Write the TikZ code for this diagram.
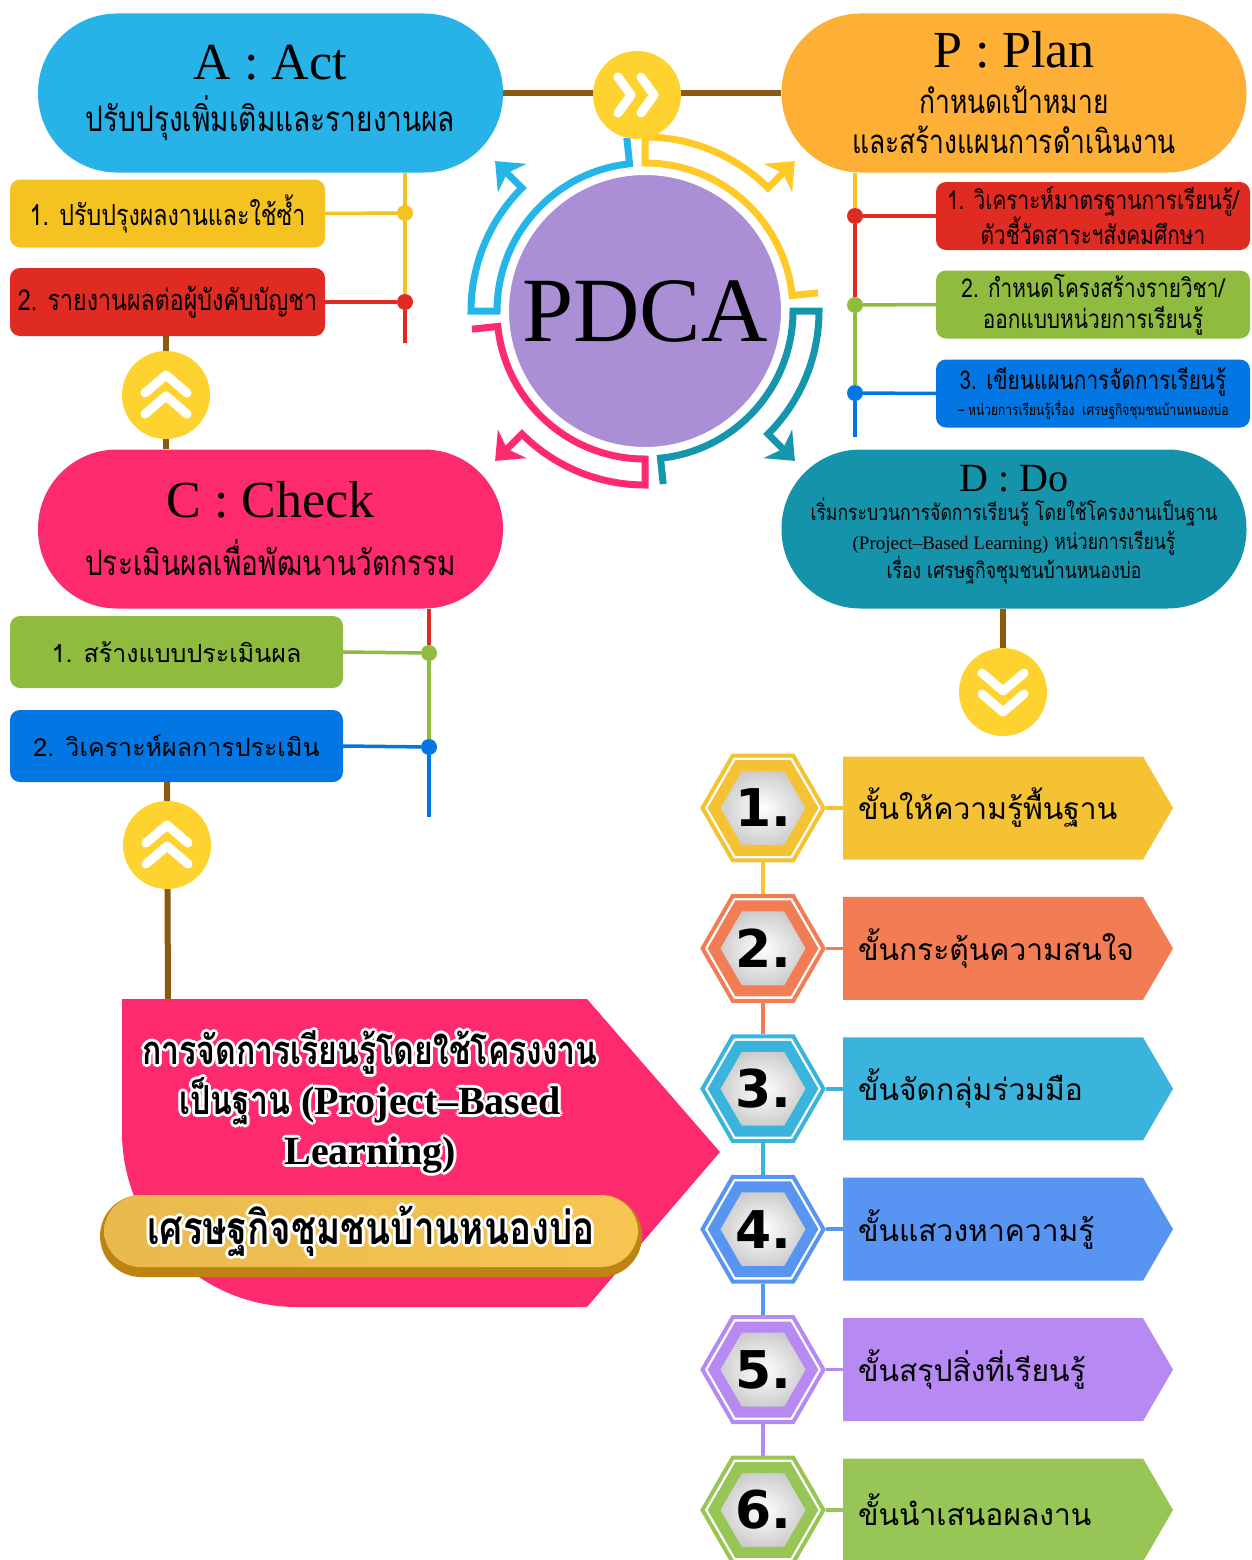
\documentclass[tikz,border=0pt]{standalone}
\usepackage{fontspec}
\setmainfont{Liberation Serif}
\newfontfamily\thaifont[Script=Thai]{Loma}
\newfontfamily\thaicond[Script=Thai, FakeStretch=0.8]{Loma}
\newfontfamily\numfont{DejaVu Sans}
\usetikzlibrary{positioning,arrows.meta,shapes.geometric,backgrounds}

\definecolor{actblue}{HTML}{27B3E8}
\definecolor{planorange}{HTML}{FDB035}
\definecolor{checkpink}{HTML}{FE2A6E}
\definecolor{doteal}{HTML}{1493AB}
\definecolor{pdcapurple}{HTML}{AA8ED6}
\definecolor{navyellow}{HTML}{FED330}
\definecolor{trunkbrown}{HTML}{8B5A12}
\definecolor{subyellow}{HTML}{F4C322}
\definecolor{subred}{HTML}{E02B22}
\definecolor{subgreen}{HTML}{8FBC3F}
\definecolor{subblue}{HTML}{0277E3}
\definecolor{arcblue}{HTML}{26B5E9}
\definecolor{arcyellow}{HTML}{FFC928}
\definecolor{arcteal}{HTML}{1596AC}
\definecolor{stepa}{HTML}{F4C232}
\definecolor{stepb}{HTML}{F27D55}
\definecolor{stepc}{HTML}{3AB4DC}
\definecolor{stepd}{HTML}{5894F2}
\definecolor{stepe}{HTML}{B68AF2}
\definecolor{stepf}{HTML}{97C656}
\definecolor{goldlight}{HTML}{F9D680}
\definecolor{goldleft}{HTML}{E8BA4E}
\definecolor{goldright}{HTML}{F7C551}
\definecolor{golddark}{HTML}{BE8412}

\newcommand{\fsz}[2]{\fontsize{#1}{#2}\selectfont}
\newcommand{\pbllines}{การจัดการเรียนรู้โดยใช้โครงงาน\\เป็นฐาน {\rmfamily\bfseries(Project–Based}\\{\rmfamily\bfseries Learning)}}
\newcommand{\goldline}{เศรษฐกิจชุมชนบ้านหนองบ่อ}

\begin{document}
\begin{tikzpicture}[
  x=1pt, y=-1pt,
  >=Stealth,
  pill/.style={rounded corners=79pt, minimum width=465, minimum height=159, align=center, inner sep=0pt},
  sub/.style={rounded corners=10pt, minimum width=315, minimum height=68, align=center, inner sep=0pt, font=\thaicond\fsz{29}{32}},
  joint/.style={circle, fill=#1, minimum size=16, inner sep=0pt},
  link/.style={draw=#1, line width=3.5pt},
  trunk/.style={draw=trunkbrown, line width=6pt},
  nav/.style={circle, fill=navyellow, minimum size=88, inner sep=0pt},
  chev/.style={draw=white, line width=9pt, line cap=round, line join=round},
  ring/.style={draw=#1, line width=7pt, -{Stealth[length=24pt, width=40pt, inset=7pt]}},
  hexout/.style={regular polygon, regular polygon sides=6, minimum size=121, inner sep=0pt, line width=4pt, draw=#1},
  hexin/.style={regular polygon, regular polygon sides=6, minimum size=98, inner sep=0pt, line width=11pt, draw=#1, inner color=white, outer color=black!22, font=\numfont\bfseries\fsz{52}{52}},
  stepbox/.style={minimum width=330, minimum height=103, text width=300, inner xsep=15pt, align=left, font=\thaifont\fsz{30}{36},
    path picture={\fill[#1] (path picture bounding box.north west) -- ([xshift=-30pt]path picture bounding box.north east) -- (path picture bounding box.east) -- ([xshift=-30pt]path picture bounding box.south east) -- (path picture bounding box.south west) -- cycle;}},
  pbltxt/.style={align=center, font=\thaicond\bfseries\fsz{40}{50}},
  goldtxt/.style={font=\thaicond\bfseries\fsz{46}{50}}
]
\useasboundingbox (0,0) rectangle (1251,1560);
\clip (0,0) rectangle (1251,1560);

% PDCA heads
\node[pill, fill=actblue, font=\thaicond\fsz{35}{52}] (act) at (270.5,93)
  {{\rmfamily\fsz{52}{52}A~:~Act}\\ปรับปรุงเพิ่มเติมและรายงานผล};
\node[pill, fill=planorange, font=\thaicond\fsz{33}{40}] (plan) at (1014,93)
  {{\rmfamily\fsz{52}{52}P~:~Plan}\\[6pt]กำหนดเป้าหมาย\\และสร้างแผนการดำเนินงาน};
\node[pill, fill=checkpink, font=\thaicond\fsz{35}{58}] (check) at (270.5,529)
  {{\rmfamily\fsz{52}{52}C~:~Check}\\ประเมินผลเพื่อพัฒนานวัตกรรม};
\node[pill, fill=doteal, font=\thaicond\fsz{22}{29}] (do) at (1014,529)
  {{\rmfamily\fsz{40}{40}D~:~Do}\\เริ่มกระบวนการจัดการเรียนรู้ โดยใช้โครงงานเป็นฐาน\\{\rmfamily\fsz{19}{29}(Project–Based Learning)} หน่วยการเรียนรู้\\เรื่อง เศรษฐกิจชุมชนบ้านหนองบ่อ\\[-15pt]\mbox{}};

% sub tasks
\node[sub, fill=subyellow] (a1) at (167.5,213.5) {1. ปรับปรุงผลงานและใช้ซ้ำ};
\node[sub, fill=subred] (a2) at (167.5,302) {2. รายงานผลต่อผู้บังคับบัญชา};
\node[sub, fill=subred, minimum width=314, font=\thaicond\fsz{26}{31}] (p1) at (1093,216) {1. วิเคราะห์มาตรฐานการเรียนรู้/\\ตัวชี้วัดสาระฯสังคมศึกษา};
\node[sub, fill=subgreen, minimum width=314, font=\thaicond\fsz{26}{31}] (p2) at (1093,304.5) {2. กำหนดโครงสร้างรายวิชา/\\ออกแบบหน่วยการเรียนรู้};
\node[sub, fill=subblue, minimum width=314, font=\thaicond\fsz{26}{26}] (p3) at (1093,393.5) {3. เขียนแผนการจัดการเรียนรู้\\{\fsz{15}{15}– หน่วยการเรียนรู้เรื่อง \ เศรษฐกิจชุมชนบ้านหนองบ่อ}};
\node[sub, fill=subgreen, minimum width=333, minimum height=72, font=\thaifont\fsz{25}{30}] (c1) at (176.5,652) {1. สร้างแบบประเมินผล};
\node[sub, fill=subblue, minimum width=333, minimum height=72, font=\thaifont\fsz{25}{30}] (c2) at (176.5,746) {2. วิเคราะห์ผลการประเมิน};

\node[joint=subyellow] (ad1) at (405,213) {};
\node[joint=subred] (ad2) at (405,302) {};
\coordinate (aend) at (405,343);
\node[joint=subred] (pd1) at (855,216) {};
\node[joint=subgreen] (pd2) at (855,305) {};
\node[joint=subblue] (pd3) at (855,393) {};
\coordinate (pend) at (855,437);
\node[joint=subgreen] (cd1) at (429,653) {};
\node[joint=subblue] (cd2) at (429,747) {};
\coordinate (cend) at (429,817);

% centre
\node[circle, fill=pdcapurple, draw=white, line width=2pt, minimum size=274, inner sep=0pt, font=\fsz{92}{92}] (pdca) at (645,311) {PDCA};
\foreach \c/\a [evaluate=\a as \s using \a+84, evaluate=\a as \t using \a+45] in {arcblue/180, checkpink/90, arcteal/0, arcyellow/270}
  \draw[ring=\c, shift={(pdca.center)}] (\s:174) -- (\s:148) arc[start angle=\s, end angle=\a, radius=148]
    -- (\a:174) arc[start angle=\a, end angle=\t, radius=174] -- (\t:212);

% chevron buttons
\node[nav] (navtop) at (637,95) {};
\node[nav] (navl1) at (166,395) {};
\node[nav] (navl2) at (167,845) {};
\node[nav] (navr) at (1003,692) {};
\draw[chev, shift={(navtop.center)}] (-19,-18) -- (-6,0) -- (-19,18) (4,-18) -- (17,0) -- (4,18);
\draw[chev, shift={(navl1.center)}] (-21,-2) -- (0,-20) -- (21,-2) (-21,19) -- (0,1) -- (21,19);
\draw[chev, shift={(navl2.center)}] (-21,-2) -- (0,-20) -- (21,-2) (-21,19) -- (0,1) -- (21,19);
\draw[chev, shift={(navr.center)}] (-21,-19) -- (0,-1) -- (21,-19) (-21,2) -- (0,20) -- (21,2);

% project based learning
\fill[checkpink] (122,999) -- (587,999) -- (720,1152) -- (587,1307) -- (297,1307)
  arc[start angle=90, end angle=180, radius=175] -- cycle;
\coordinate (pbltop) at (168,999);
\foreach \hx/\hy in {3/0,-3/0,0/3,0/-3,2/2,-2/2,2/-2,-2/-2}
  \node[pbltxt, text=white, xshift=\hx, yshift=\hy] at (370,1102) {\pbllines};
\node[pbltxt] (pbl) at (370,1102) {\pbllines};

\fill[golddark, rounded corners=41pt] (100,1195) rectangle (642,1277);
\node[rounded corners=37pt, minimum width=534, minimum height=72, inner sep=0pt,
  left color=goldleft, middle color=goldlight, right color=goldright] (gold) at (371,1231) {};
\foreach \hx/\hy in {3/0,-3/0,0/3,0/-3,2/2,-2/2,2/-2,-2/-2}
  \node[goldtxt, text=white, xshift=\hx, yshift=\hy] at (gold) {\goldline};
\node[goldtxt] (goldt) at (gold) {\goldline};

% learning steps
\foreach \i/\c/\t in {1/stepa/ขั้นให้ความรู้พื้นฐาน, 2/stepb/ขั้นกระตุ้นความสนใจ, 3/stepc/ขั้นจัดกลุ่มร่วมมือ,
    4/stepd/ขั้นแสวงหาความรู้, 5/stepe/ขั้นสรุปสิ่งที่เรียนรู้, 6/stepf/ขั้นนำเสนอผลงาน}{
  \node[hexout=\c] (r\i) at (763,{667.6+140.4*\i}) {};
  \node[hexin=\c] (h\i) at (r\i) {\i.};
  \node[stepbox=\c, right=17pt of r\i] (s\i) {\t};
}

\begin{scope}[on background layer]
  \draw[trunk] (act.east) -- (plan.west);
  \draw[trunk] (a2.south -| navl1) -- (check.north -| navl1);
  \draw[trunk] (c2.south -| navl2) -- (pbltop);
  \draw[trunk] (do.south -| navr) -- (navr);

  \draw[link=subyellow] (act.south -| ad1) -- (ad2);
  \draw[link=subred] (ad2) -- (aend);
  \draw[link=subyellow] (a1.east) -- (ad1);
  \draw[link=subred] (a2.east) -- (ad2);

  \draw[link=subyellow] (plan.south -| pd1) -- (pd1);
  \draw[link=subred] (pd1) -- (pd2);
  \draw[link=subgreen] (pd2) -- (pd3);
  \draw[link=subblue] (pd3) -- (pend);
  \draw[link=subred] (pd1) -- (p1.west);
  \draw[link=subgreen] (pd2) -- (p2.west);
  \draw[link=subblue] (pd3) -- (p3.west);

  \draw[link=subred] (check.south -| cd1) -- (cd1);
  \draw[link=subgreen] (cd1) -- (cd2);
  \draw[link=subblue] (cd2) -- (cend);
  \draw[link=subgreen] (c1.east) -- (cd1);
  \draw[link=subblue] (c2.east) -- (cd2);

  \foreach \i/\c [count=\j from 2] in {1/stepa, 2/stepb, 3/stepc, 4/stepd, 5/stepe}
    \draw[link=\c] (r\i.south) -- (r\j.north);
  \foreach \i/\c in {1/stepa, 2/stepb, 3/stepc, 4/stepd, 5/stepe, 6/stepf}
    \draw[link=\c] (r\i.east) -- (s\i.west);
\end{scope}
\end{tikzpicture}
\end{document}
